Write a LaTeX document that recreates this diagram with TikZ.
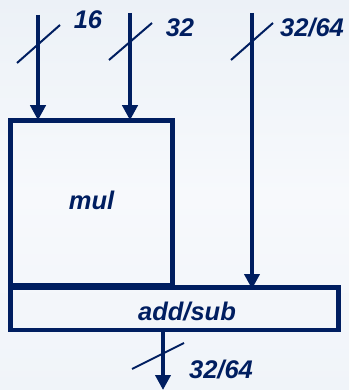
\documentclass[tikz,border=0pt]{standalone}
\usepackage{fontspec}
\setmainfont{Liberation Sans}
\usetikzlibrary{arrows.meta}
\definecolor{navy}{RGB}{0,30,96}
\definecolor{bgtop}{RGB}{236,241,247}
\definecolor{bgmid}{RGB}{247,249,252}
\definecolor{bgbot}{RGB}{240,244,249}
\begin{document}
\begin{tikzpicture}[x=1pt,y=-1pt,
  blk/.style={draw=navy,line width=4.5pt,rectangle,inner sep=0pt,fill=none},
  lbl/.style={text=navy,font=\fontsize{25.5}{30}\selectfont\bfseries\itshape,inner sep=0pt},
  bus/.style={draw=navy,line width=4pt,-{Triangle[width=15pt,length=15pt]}},
  slash/.style={draw=navy,line width=2pt}]
\shade[top color=bgtop,bottom color=bgbot,middle color=bgmid] (0,0) rectangle (349,390);
\useasboundingbox (0,0) rectangle (349,390);
\node[blk,minimum width=162pt,minimum height=165pt] (mul) at (91.5,203) {};
\node[lbl] (multxt) at (91.5,200) {mul};
\node[blk,minimum width=328pt,minimum height=42.5pt] (add) at (174.5,308.5) {};
\node[lbl] (addtxt) at (187,312) {add/sub};
\coordinate (a) at (38,15);
\coordinate (b) at (130,13);
\coordinate (c) at (252,13);
\coordinate (d) at (163,390);
\draw[bus] (a) -- ([yshift=-2pt]a |- mul.north);
\draw[bus] (b) -- ([yshift=-2pt]b |- mul.north);
\draw[bus] (c) -- ([yshift=-4pt]c |- add.north);
\draw[bus] (d |- add.south) -- (d);
\draw[slash] (17,63) -- (60,25);
\draw[slash] (109,60) -- (152,23);
\draw[slash] (231,60) -- (273,23);
\draw[slash] (132,369) -- (184,343);
\node[lbl] (l1) at (88,20) {16};
\node[lbl] (l2) at (180,28) {32};
\node[lbl] (l3) at (312,28) {32/64};
\node[lbl] (l4) at (221,370) {32/64};
\end{tikzpicture}
\end{document}
